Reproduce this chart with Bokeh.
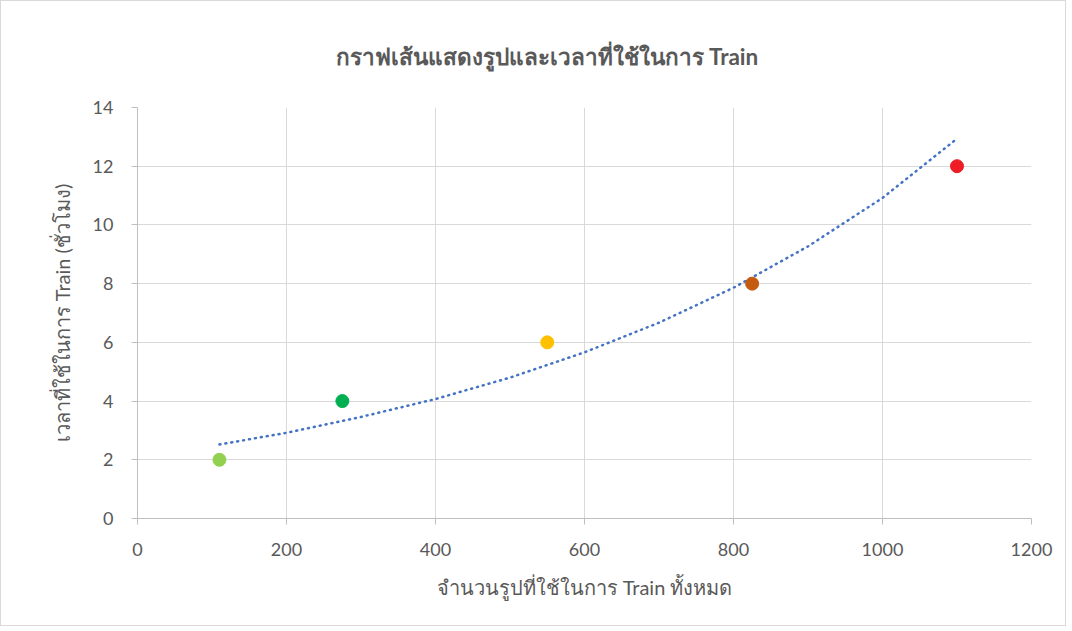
from bokeh.plotting import figure
from bokeh.models import ColumnDataSource, FixedTicker, Range1d
from bokeh.embed import file_html
from bokeh.resources import INLINE

# data
images = [110, 275, 550, 825, 1100]
hours = [2, 4, 6, 8, 12]
point_colors = ["#92D050", "#00B050", "#FFC000", "#C55A11", "#EE1C25"]

trend_x = [110, 200, 300, 400, 500, 600, 700, 800, 900, 1000, 1100]
trend_y = [2.52, 2.92, 3.46, 4.07, 4.80, 5.66, 6.67, 7.86, 9.27, 10.92, 12.94]

x_ticks = [0, 200, 400, 600, 800, 1000, 1200]
y_ticks = [0, 2, 4, 6, 8, 10, 12, 14]

title_text = "กราฟเส้นแสดงรูปและเวลาที่ใช้ในการ Train"
x_label = "จำนวนรูปที่ใช้ในการ Train ทั้งหมด"
y_label = "เวลาที่ใช้ในการ Train (ชั่วโมง)"

FONT = "Lato"
GRAY = "#595959"
GRID = "#d9d9d9"

p = figure(
    frame_width=894, frame_height=411,
    x_range=Range1d(0, 1200), y_range=Range1d(0, 14),
    output_backend="svg", toolbar_location=None,
    min_border_left=136, min_border_right=34, min_border_top=106, min_border_bottom=107,
    title=title_text,
)
p.styles = {"border": "1px solid #d9d9d9"}
p.title.align = "left"
p.title.offset = 198
p.title.text_font = FONT
p.title.text_font_size = "22.5px"
p.title.text_color = GRAY
p.title.text_font_style = "bold"
p.title.standoff = 76

p.outline_line_color = None

for ax, ticks in ((p.xaxis, x_ticks), (p.yaxis, y_ticks)):
    ax.ticker = FixedTicker(ticks=ticks)
    ax.minor_tick_line_color = None
    ax.axis_line_color = "#bfbfbf"
    ax.major_tick_line_color = "#bfbfbf"
    ax.major_tick_in = 0
    ax.major_tick_out = 6
    ax.major_label_text_font = FONT
    ax.major_label_text_font_size = "18px"
    ax.major_label_text_color = GRAY
    ax.axis_label_text_font = FONT
    ax.axis_label_text_font_size = "20px"
    ax.axis_label_text_color = GRAY
    ax.axis_label_text_font_style = "normal"

p.xaxis.axis_label = x_label
p.yaxis.axis_label = y_label
p.xaxis.major_label_standoff = 18
p.yaxis.major_label_standoff = 18
p.xaxis.axis_label_standoff = 16
p.yaxis.axis_label_standoff = 16

p.xgrid.grid_line_color = GRID
p.ygrid.grid_line_color = GRID
p.xgrid.ticker = FixedTicker(ticks=x_ticks)
p.ygrid.ticker = FixedTicker(ticks=y_ticks)

p.line(trend_x, trend_y, line_color="#4472C4", line_width=2.5,
       line_dash="1 5", line_cap="round")

src = ColumnDataSource(dict(x=images, y=hours, c=point_colors))
p.scatter("x", "y", source=src, size=13, fill_color="c", line_color="c")

open("out.html", "w").write(file_html(p, INLINE))
